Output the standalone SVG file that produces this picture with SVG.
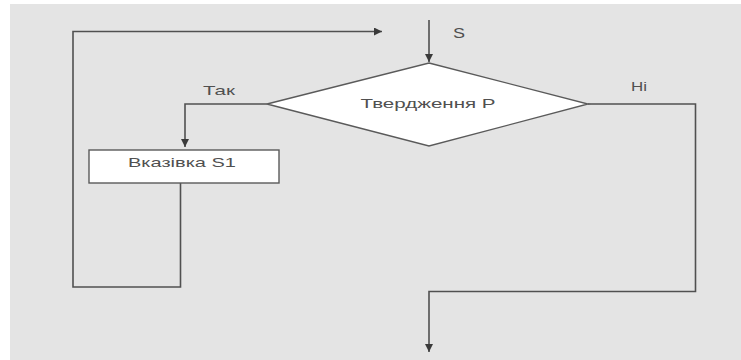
<svg xmlns="http://www.w3.org/2000/svg" width="741" height="360" viewBox="0 0 741 360">
<defs>
<marker id="arr" markerWidth="10" markerHeight="10" refX="8" refY="4" orient="auto" markerUnits="userSpaceOnUse">
<path d="M0,0 L8,4 L0,8 Z" fill="#3a3a3a"/>
</marker>
<style>
.bg{fill:#ffffff}
.panel{fill:#e4e4e4}
.ln{fill:none;stroke:#505050;stroke-width:1.6}
.shape{fill:#ffffff;stroke:#5a5a5a;stroke-width:1.4}
.t{font-family:"Liberation Sans",Arial,sans-serif;font-size:13px;fill:#505050}
</style>
</defs>
<rect class="bg" x="0" y="0" width="741" height="360"/>
<rect class="panel" x="10" y="4" width="731" height="356"/>
<g id="connectors">
<path class="ln" d="M429,20 L429,62" marker-end="url(#arr)"/>
<path class="ln" d="M267,104 L185,104 L185,147" marker-end="url(#arr)"/>
<path class="ln" d="M180.5,183 L180.5,287 L73,287 L73,31.5 L382,31.5" marker-end="url(#arr)"/>
<path class="ln" d="M588,104 L695.5,104 L695.5,291.5 L429,291.5 L429,352" marker-end="url(#arr)"/>
</g>
<g id="decision">
<polygon class="shape" points="429,63 588,104 429,146 267,104"/>
<text class="t" x="428" y="108" text-anchor="middle" textLength="135" lengthAdjust="spacingAndGlyphs">Твердження P</text>
</g>
<g id="action">
<rect class="shape" x="89" y="150" width="190" height="33"/>
<text class="t" x="182" y="166.5" text-anchor="middle" textLength="108" lengthAdjust="spacingAndGlyphs">Вказівка S1</text>
</g>
<g id="labels">
<text class="t" x="459" y="38" text-anchor="middle" style="font-size:14px" textLength="12" lengthAdjust="spacingAndGlyphs">S</text>
<text class="t" x="219" y="95" text-anchor="middle" textLength="32" lengthAdjust="spacingAndGlyphs">Так</text>
<text class="t" x="639" y="90.5" text-anchor="middle" textLength="16" lengthAdjust="spacingAndGlyphs">Hi</text>
</g>
</svg>
